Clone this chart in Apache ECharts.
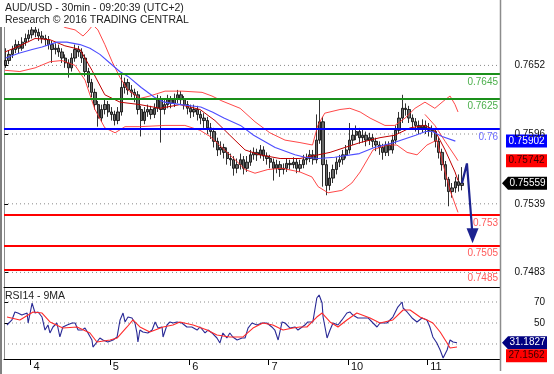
<!DOCTYPE html>
<html><head><meta charset="utf-8">
<script src="https://cdn.jsdelivr.net/npm/echarts@6/dist/echarts.min.js"></script>
<style>html,body{margin:0;padding:0;background:#fff}#c{width:554px;height:374px}</style>
</head><body><div id="c"></div>
<script>
// ---------- data ----------
const titleLines = ['AUD/USD - 30min - 09:20:39 (UTC+2)', 'Research \u00a9 2016 TRADING CENTRAL'];
const rsiTitle = 'RSI14 - 9MA';
const barCount = 150;                       // slots on the time axis
const dayTicks = [8, 32, 56, 80, 104, 128]; // bar index where each day starts
const dayLabels = ['4', '5', '6', '7', '10', '11'];
const priceTicks = [0.7652, 0.7596, 0.7539, 0.7483];
const rsiTicks = [70, 50];
const rsiGrid = [70, 50, 30];

// [open, close, low, high]
const candles = [
[0.7652,0.7656,0.7650,0.7666],[0.7656,0.7661,0.7653,0.7664],[0.7661,0.7665,0.7658,0.7668],[0.7665,0.7669,0.7662,0.7673],[0.7669,0.7666,0.7662,0.7672],
[0.7666,0.7671,0.7664,0.7675],[0.7671,0.7674,0.7668,0.7678],[0.7674,0.7677,0.7671,0.7681],[0.7677,0.7681,0.7674,0.7685],[0.7681,0.7679,0.7675,0.7684],
[0.7679,0.7676,0.7672,0.7682],[0.7676,0.7674,0.7670,0.7680],[0.7674,0.7673,0.7668,0.7677],[0.7673,0.7669,0.7665,0.7676],[0.7669,0.7665,0.7654,0.7672],
[0.7665,0.7666,0.7661,0.7670],[0.7666,0.7663,0.7659,0.7669],[0.7663,0.7658,0.7654,0.7666],[0.7658,0.7654,0.7650,0.7661],[0.7654,0.7650,0.7642,0.7657],
[0.7650,0.7658,0.7647,0.7662],[0.7658,0.7665,0.7655,0.7669],[0.7665,0.7663,0.7659,0.7668],[0.7663,0.7658,0.7654,0.7666],[0.7658,0.7647,0.7643,0.7661],
[0.7647,0.7638,0.7634,0.7650],[0.7638,0.7630,0.7626,0.7641],[0.7630,0.7620,0.7616,0.7633],[0.7620,0.7609,0.7602,0.7623],[0.7609,0.7616,0.7606,0.7620],
[0.7616,0.7620,0.7612,0.7624],[0.7620,0.7614,0.7610,0.7623],[0.7614,0.7612,0.7607,0.7618],[0.7612,0.7607,0.7603,0.7615],[0.7607,0.7614,0.7604,0.7618],
[0.7614,0.7634,0.7611,0.7646],[0.7634,0.7638,0.7629,0.7642],[0.7638,0.7632,0.7628,0.7641],[0.7632,0.7630,0.7626,0.7636],[0.7630,0.7628,0.7622,0.7633],
[0.7628,0.7616,0.7612,0.7631],[0.7616,0.7607,0.7594,0.7619],[0.7607,0.7614,0.7604,0.7618],[0.7614,0.7616,0.7610,0.7620],[0.7616,0.7612,0.7608,0.7619],
[0.7612,0.7617,0.7609,0.7621],[0.7617,0.7624,0.7614,0.7628],[0.7624,0.7616,0.7589,0.7627],[0.7616,0.7620,0.7612,0.7624],[0.7620,0.7624,0.7617,0.7628],
[0.7624,0.7621,0.7617,0.7627],[0.7621,0.7625,0.7618,0.7629],[0.7625,0.7628,0.7621,0.7632],[0.7628,0.7624,0.7620,0.7631],[0.7624,0.7620,0.7616,0.7627],
[0.7620,0.7617,0.7612,0.7623],[0.7617,0.7614,0.7609,0.7620],[0.7614,0.7616,0.7610,0.7620],[0.7616,0.7612,0.7607,0.7619],[0.7612,0.7609,0.7604,0.7615],
[0.7609,0.7607,0.7601,0.7613],[0.7607,0.7601,0.7596,0.7610],[0.7601,0.7598,0.7592,0.7605],[0.7598,0.7590,0.7585,0.7601],[0.7590,0.7583,0.7578,0.7593],
[0.7583,0.7585,0.7579,0.7590],[0.7585,0.7581,0.7576,0.7588],[0.7581,0.7576,0.7571,0.7585],[0.7576,0.7575,0.7570,0.7580],[0.7575,0.7568,0.7562,0.7578],
[0.7568,0.7571,0.7564,0.7576],[0.7571,0.7575,0.7567,0.7580],[0.7575,0.7568,0.7563,0.7578],[0.7568,0.7573,0.7565,0.7578],[0.7573,0.7579,0.7570,0.7583],
[0.7579,0.7581,0.7575,0.7585],[0.7581,0.7579,0.7574,0.7584],[0.7579,0.7583,0.7576,0.7587],[0.7583,0.7578,0.7574,0.7586],[0.7578,0.7576,0.7571,0.7581],
[0.7576,0.7573,0.7568,0.7579],[0.7573,0.7568,0.7558,0.7576],[0.7568,0.7571,0.7564,0.7575],[0.7571,0.7567,0.7561,0.7574],[0.7567,0.7568,0.7563,0.7572],
[0.7568,0.7572,0.7565,0.7576],[0.7572,0.7571,0.7567,0.7575],[0.7571,0.7573,0.7568,0.7577],[0.7573,0.7568,0.7564,0.7576],[0.7568,0.7571,0.7565,0.7575],
[0.7571,0.7575,0.7568,0.7579],[0.7575,0.7576,0.7571,0.7580],[0.7576,0.7579,0.7573,0.7583],[0.7579,0.7575,0.7571,0.7583],[0.7575,0.7591,0.7572,0.7612],
[0.7591,0.7606,0.7588,0.7624],[0.7606,0.7571,0.7553,0.7610],[0.7571,0.7554,0.7546,0.7575],[0.7554,0.7560,0.7550,0.7565],[0.7560,0.7567,0.7556,0.7571],
[0.7567,0.7573,0.7563,0.7577],[0.7573,0.7575,0.7569,0.7579],[0.7575,0.7579,0.7571,0.7583],[0.7579,0.7583,0.7576,0.7587],[0.7583,0.7591,0.7580,0.7605],
[0.7591,0.7595,0.7587,0.7600],[0.7595,0.7598,0.7591,0.7603],[0.7598,0.7593,0.7588,0.7601],[0.7593,0.7595,0.7589,0.7600],[0.7595,0.7591,0.7586,0.7598],
[0.7591,0.7593,0.7587,0.7597],[0.7593,0.7590,0.7585,0.7596],[0.7590,0.7587,0.7582,0.7593],[0.7587,0.7585,0.7579,0.7590],[0.7585,0.7581,0.7575,0.7588],
[0.7581,0.7587,0.7578,0.7590],[0.7587,0.7583,0.7578,0.7590],[0.7583,0.7591,0.7580,0.7595],[0.7591,0.7599,0.7588,0.7603],[0.7599,0.7609,0.7596,0.7614],
[0.7609,0.7617,0.7605,0.7628],[0.7617,0.7616,0.7611,0.7621],[0.7616,0.7609,0.7605,0.7619],[0.7609,0.7606,0.7601,0.7612],[0.7606,0.7603,0.7598,0.7609],
[0.7603,0.7601,0.7596,0.7607],[0.7601,0.7603,0.7597,0.7608],[0.7603,0.7601,0.7596,0.7607],[0.7601,0.7599,0.7594,0.7605],[0.7599,0.7598,0.7593,0.7603],
[0.7598,0.7590,0.7585,0.7601],[0.7590,0.7581,0.7576,0.7593],[0.7581,0.7571,0.7566,0.7584],[0.7571,0.7559,0.7553,0.7574],[0.7559,0.7549,0.7537,0.7561],
[0.7549,0.7552,0.7544,0.7556],[0.7552,0.7557,0.7548,0.7561],[0.7557,0.7554,0.7549,0.7563],[0.7554,0.7556,0.7550,0.7569]
];

// indicator lines: [bar position, value]
const bandUpper = [[0.3,0.7689],[4.8,0.7693],[9.4,0.7696],[13.9,0.7691],[18.4,0.7683],[21.5,0.7681],[23.9,0.7676],[25.4,0.7680],[26.9,0.7685],[28.4,0.7681],[30.5,0.7669],[32.7,0.7655],[35.1,0.7642],[37.5,0.7632],[41.1,0.7625],[44.1,0.7627],[48.7,0.7631],[53.8,0.7631],[59.9,0.7630],[62.9,0.7627],[65.9,0.7623],[71.4,0.7617],[75.9,0.7606],[80.4,0.7597],[85,0.7591],[89.5,0.7589],[93.3,0.7587],[94.9,0.7603],[97,0.7613],[101.6,0.7616],[104.6,0.7617],[107.7,0.7614],[110.7,0.7609],[115.2,0.7603],[118.2,0.7603],[121.3,0.7609],[124.3,0.7617],[127.3,0.7622],[130.3,0.7617],[133.4,0.7624],[134.9,0.7627],[136.4,0.7620],[137.3,0.7614]];
const bandUpper2 = [[127.3,0.7612],[130.3,0.7603],[133.4,0.7590],[136.4,0.7578],[137.3,0.75742]];
const bandLower = [[0.3,0.7648],[4.8,0.7647],[9.4,0.7650],[13.9,0.7655],[17.5,0.7656],[21.5,0.7652],[24.5,0.7640],[27.5,0.7616],[30.5,0.7601],[33.6,0.7597],[36.6,0.7602],[41.1,0.7602],[48.7,0.7603],[54.7,0.7603],[59.3,0.7599],[62.3,0.7594],[65.9,0.7585],[69.9,0.7575],[72.9,0.7567],[75.9,0.7564],[79.8,0.7567],[84.1,0.7568],[89.5,0.7565],[93.1,0.7561],[95,0.7553],[98,0.7548],[102.2,0.7550],[105.2,0.7556],[107.7,0.7565],[111.6,0.7583],[115.8,0.7587],[118.8,0.7587],[121.9,0.7581],[124.9,0.7579],[127.9,0.7587],[130.9,0.7591],[132.8,0.7571],[134.9,0.7550],[137.3,0.7532]];
const bandMid = [[0.3,0.7663],[4.8,0.7668],[9.4,0.7674],[13.9,0.7673],[18.4,0.7668],[23,0.7665],[26.6,0.7648],[30.5,0.7628],[35.1,0.7622],[41.1,0.7620],[47.2,0.7617],[53.2,0.7620],[59.3,0.7616],[63.8,0.7607],[68.3,0.7595],[72.9,0.7583],[77.4,0.7579],[83.5,0.7576],[89.5,0.7576],[95,0.7579],[98.6,0.7581],[103.1,0.7585],[107.7,0.7589],[113.7,0.7593],[118.2,0.7595],[122.8,0.7601],[127.3,0.7603],[130.3,0.7599],[133.4,0.7583],[136.4,0.7565],[137.3,0.7558]];
const maBlue = [[0.5,0.7658],[4.5,0.7662],[8.5,0.7665],[11.5,0.7667],[16,0.7671],[19,0.7671],[23,0.7669],[26,0.7666],[29,0.7661],[32,0.7654],[35,0.7647],[37.5,0.7643],[41.5,0.7634],[45.5,0.7626],[48.5,0.7622],[53.5,0.7620],[59.5,0.7618],[63,0.7614],[66.5,0.7609],[71.5,0.7603],[75.5,0.7595],[82,0.7585],[88,0.7579],[91,0.7577],[95,0.7576],[100,0.7577],[107.5,0.7580],[112,0.7585],[118,0.7589],[124.5,0.7595],[127.5,0.7598],[129.5,0.7598],[132.5,0.7594],[136.5,0.75902]];
const forecastPath = [[138.5,0.75559],[140.0,0.7572],[141.7,0.7513]];
const levels = [
  {v:0.7645, text:'0.7645', line:'#1a8f1a', label:'#4caf4c'},
  {v:0.7625, text:'0.7625', line:'#1a8f1a', label:'#4caf4c'},
  {v:0.76,   text:'0.76',   line:'#0000ff', label:'#6b6bff'},
  {v:0.753,  text:'0.753',  line:'#ff0000', label:'#ff5a5a'},
  {v:0.7505, text:'0.7505', line:'#ff0000', label:'#ff5a5a'},
  {v:0.7485, text:'0.7485', line:'#ff0000', label:'#ff5a5a'}
];
const rsi = [[0.9,48.1],[2.4,52.9],[3.3,60.5],[4.2,59.5],[5.4,57.6],[7,59.5],[7.3,50],[8.5,69],[8.8,70],[9.4,59.5],[10.3,60.5],[11.5,55.7],[12.4,43.3],[13.3,48.1],[13.9,40.5],[14.8,46.2],[16,50],[16.9,36.7],[17.8,46.2],[19.1,48.1],[20.6,50],[21.5,50],[22.4,43.3],[23.6,43.3],[24.5,45.2],[25.4,40.5],[26.6,33.8],[26.9,27.1],[28.1,31.9],[29,35.7],[29.9,33.8],[31.4,31.9],[33,33.8],[34.2,36.7],[35.1,52.9],[36,59.5],[36.6,51],[37.5,55.7],[38.7,54.8],[39.6,50],[40.2,40.5],[40.5,31.9],[41.1,43.3],[42,41.4],[43.5,40.5],[44.8,43.3],[45.7,51],[46.6,45.2],[47.8,46.2],[48.1,36.7],[49.3,48.1],[50.2,51],[51.1,50],[52.3,51],[53.8,50],[55.3,46.2],[56.8,46.2],[58.4,43.3],[59.3,46.2],[60.8,40.5],[61.7,43.3],[62.9,40.5],[64.4,35.7],[65.3,31],[66.2,40.5],[67.4,35.7],[68.3,40.5],[69.2,36.7],[70.5,33.8],[72,35.7],[72.9,35.7],[73.8,45.2],[75,50],[76.5,48.1],[78,50],[79.5,50],[81,46.2],[81.9,43.3],[82.9,33.8],[84.1,51],[85,50],[86.5,45.2],[88,46.2],[88.9,43.3],[89.5,43.3],[91,48.1],[91.9,51],[93.4,51],[94.6,73.8],[95.3,76.7],[96.2,69],[96.5,55.7],[97.7,35.7],[98.6,43.3],[99.5,50],[101,48.1],[102.2,52.9],[103.7,59.5],[104.6,60.5],[105.5,57.6],[107,54.8],[108.6,54.8],[110.1,54.8],[111.6,50],[112.8,46.2],[113.7,50],[115.8,50],[117.6,55.7],[119.1,65.2],[120.4,70],[120.7,64.3],[121.9,60.5],[123.4,54.8],[124.9,51],[126.4,54.8],[127.9,52.9],[128.8,46.2],[129.7,36.7],[130.9,31],[131.9,24.3],[132.8,16.7],[134,24.3],[134.9,33.8],[135.8,31.9],[137,31.1827]];
const rsiMa = [[0.9,55.7],[4.8,52.9],[8.8,60.5],[11.5,59.5],[13.9,51],[17.8,45.2],[22.1,46.2],[26,40.5],[28.1,31.9],[32.1,33.8],[34.2,35.7],[37.2,46.2],[39,52.9],[41.1,46.2],[44.1,41.4],[48.1,46.2],[51.1,48.1],[53.2,51],[57.2,48.1],[61.4,43.3],[64.4,38.6],[68.3,36.7],[72.3,36.7],[75.3,45.2],[78.3,50],[81.3,48.1],[84.4,43.3],[87.4,45.2],[89.5,46.2],[91.6,46.2],[94.6,55.7],[96.2,59.5],[98.6,51],[101,46.2],[103.7,52.9],[106.7,59.5],[110.7,54.8],[113.7,50],[117.6,52.9],[120.7,62.4],[122.8,62.4],[125.8,55.7],[127.9,52.9],[129.7,50],[131.9,41.4],[134,31],[134.9,26.2],[137,27.1562]];
const lastValues = {ma:0.75902, upper:0.75742, close:0.75559, rsi:31.1827, rsiMa:27.1562};

// ---------- chart ----------
const FONT = 'Liberation Sans, Arial, sans-serif';
const FS = 10;
const chart = echarts.init(document.getElementById('c'), null, {renderer:'canvas'});
const cats = [];
for (let i = 0; i < barCount; i++) cats.push(String(i));

const line = (data, color, width, z, extra) => Object.assign({
  type:'line', xAxisIndex:2, yAxisIndex:0, data, symbol:'none', silent:true, z,
  lineStyle:{color, width}, animation:false
}, extra || {});
const dotted = {color:'#8a8a8a', type:[1,3], width:1};

const option = {
  animation:false,
  textStyle:{fontFamily:FONT},
  grid:[
    {left:4, top:0, width:496, height:287},
    {left:4, top:287, width:496, height:72}
  ],
  xAxis:[
    {type:'category', gridIndex:0, data:cats, boundaryGap:true,
     axisLine:{show:true, lineStyle:{color:'#000', width:1}}, axisTick:{show:false}, axisLabel:{show:false}, splitLine:{show:false}},
    {type:'value', gridIndex:1, min:0, max:barCount,
     axisLine:{show:true, onZero:false, lineStyle:{color:'#000', width:1}},
     axisTick:{show:true, customValues:dayTicks, length:6, lineStyle:{color:'#000'}},
     axisLabel:{show:true, customValues:dayTicks, margin:2, align:'left', padding:[0,0,0,3],
       fontSize:11, color:'#111', fontFamily:FONT,
       formatter:v => dayLabels[dayTicks.indexOf(Math.round(v))] || ''},
     splitLine:{show:false}},
    {type:'value', gridIndex:0, min:0, max:barCount, show:false}
  ],
  yAxis:[
    {type:'value', gridIndex:0, position:'right', min:0.74711, max:0.77054, scale:true,
     axisLine:{show:true, lineStyle:{color:'#8c8c8c'}},
     axisTick:{show:true, customValues:priceTicks, length:4, lineStyle:{color:'#000'}},
     axisLabel:{customValues:priceTicks, align:'right', margin:45, fontSize:FS, color:'#111', fontFamily:FONT,
       formatter:v => v.toFixed(4)},
     splitLine:{show:false}},
    {type:'value', gridIndex:1, position:'right', min:15.7, max:84.3,
     axisLine:{show:true, lineStyle:{color:'#8c8c8c'}},
     axisTick:{show:true, customValues:rsiTicks, length:4, lineStyle:{color:'#000'}},
     axisLabel:{customValues:rsiTicks, align:'right', margin:45, fontSize:FS, color:'#111', fontFamily:FONT},
     splitLine:{show:false}}
  ],
  series:[
    // dotted price grid lines, one per tick value
    ...priceTicks.map(v => line([[0, v], [barCount, v]], dotted.color, 1, 1, {lineStyle:dotted})),
    {type:'candlestick', xAxisIndex:0, yAxisIndex:0, data:candles, barWidth:2.8, silent:true, z:3,
     itemStyle:{color:'#6a6a6a', color0:'#6a6a6a', borderColor:'#000', borderColor0:'#000', borderWidth:0.8}},
    line(bandUpper, 'rgba(255,40,40,0.85)', 1, 4),
    line(bandUpper2, 'rgba(255,40,40,0.85)', 1, 4),
    line(bandLower, 'rgba(255,40,40,0.85)', 1, 4),
    line(bandMid, '#c00000', 1, 4),
    line(maBlue, '#4d4dff', 1.1, 4),
    line([], '#000', 1, 6, {
      markLine:{silent:true, symbol:'none', animation:false, precision:5,
        data:levels.map(l => ({yAxis:l.v, lineStyle:{color:l.line, width:2, type:'solid'},
          label:{show:true, position:'insideEndBottom', distance:[2,3], formatter:l.text, color:l.label, fontSize:FS, fontFamily:FONT}}))}
    }),
    line(forecastPath.map((p, i) => i === forecastPath.length - 1
        ? {value:p, symbol:'triangle', symbolSize:[12,15], symbolRotate:180}
        : {value:p, symbol:'none'}),
      '#1c2290', 2.2, 7, {symbol:'none', itemStyle:{color:'#1c2290'}, showSymbol:true}),
    // RSI panel
    ...rsiGrid.map(v => ({type:'line', xAxisIndex:1, yAxisIndex:1, data:[[0, v], [barCount, v]], symbol:'none', silent:true, z:1, lineStyle:dotted})),
    {type:'line', xAxisIndex:1, yAxisIndex:1, data:rsi, symbol:'none', silent:true, z:4,
     lineStyle:{color:'#2a2a96', width:1.1}},
    {type:'line', xAxisIndex:1, yAxisIndex:1, data:rsiMa, symbol:'none', silent:true, z:5,
     lineStyle:{color:'#ff2a2a', width:1.1}}
  ]
};
chart.setOption(option);

// value tags on the right side, placed from the axes' own scales
const yP = v => chart.convertToPixel({yAxisIndex:0}, v);
const yR = v => chart.convertToPixel({yAxisIndex:1}, v);
const tagX = 506, tagW = 41, tagH = 13;
function boxTag(y, text, bg, fg) {
  return {type:'group', z:20, children:[
    {type:'rect', shape:{x:tagX, y:y - tagH/2, width:tagW, height:tagH}, style:{fill:bg}},
    {type:'text', style:{x:tagX + tagW/2, y:y, text, fill:fg, font:FS + 'px ' + FONT, align:'center', verticalAlign:'middle'}}
  ]};
}
function arrowTag(y, text, bg, fg) {
  return {type:'group', z:20, children:[
    {type:'polygon', shape:{points:[[tagX-4,y],[tagX+2,y-tagH/2],[tagX+tagW,y-tagH/2],[tagX+tagW,y+tagH/2],[tagX+2,y+tagH/2]]}, style:{fill:bg}},
    {type:'text', style:{x:tagX + tagW/2 + 1, y:y, text, fill:fg, font:FS + 'px ' + FONT, align:'center', verticalAlign:'middle'}}
  ]};
}
const yRsi = yR(lastValues.rsi);
let yRsiMa = yR(lastValues.rsiMa);
if (Math.abs(yRsiMa - yRsi) < tagH) yRsiMa = yRsi + tagH;

chart.setOption({graphic:[
  {type:'rect', shape:{x:0, y:0, width:172, height:27}, style:{fill:'#fff'}, z:15},
  {type:'text', left:5, top:3, z:16, style:{text:titleLines[0], fill:'#222', font:'10.5px ' + FONT}},
  {type:'text', left:5, top:15, z:16, style:{text:titleLines[1], fill:'#222', font:'10.5px ' + FONT}},
  {type:'text', left:5, top:291, z:16, style:{text:rsiTitle, fill:'#222', font:'10.5px ' + FONT}},
  {type:'line', shape:{x1:1, y1:27, x2:1, y2:374}, style:{stroke:'#000', lineWidth:1}, z:10},
  {type:'line', shape:{x1:500.5, y1:0, x2:500.5, y2:371}, style:{stroke:'#8c8c8c', lineWidth:1.5}, z:10},
  boxTag(yP(lastValues.ma), lastValues.ma.toFixed(5), '#0000ff', '#fff'),
  boxTag(yP(lastValues.upper), lastValues.upper.toFixed(5), '#ff0000', '#3a0000'),
  arrowTag(yP(lastValues.close), lastValues.close.toFixed(5), '#000', '#fff'),
  arrowTag(yRsi, lastValues.rsi.toFixed(4), '#000080', '#fff'),
  boxTag(yRsiMa, lastValues.rsiMa.toFixed(4), '#ff0000', '#3a0000')
]});
</script>
</body></html>
